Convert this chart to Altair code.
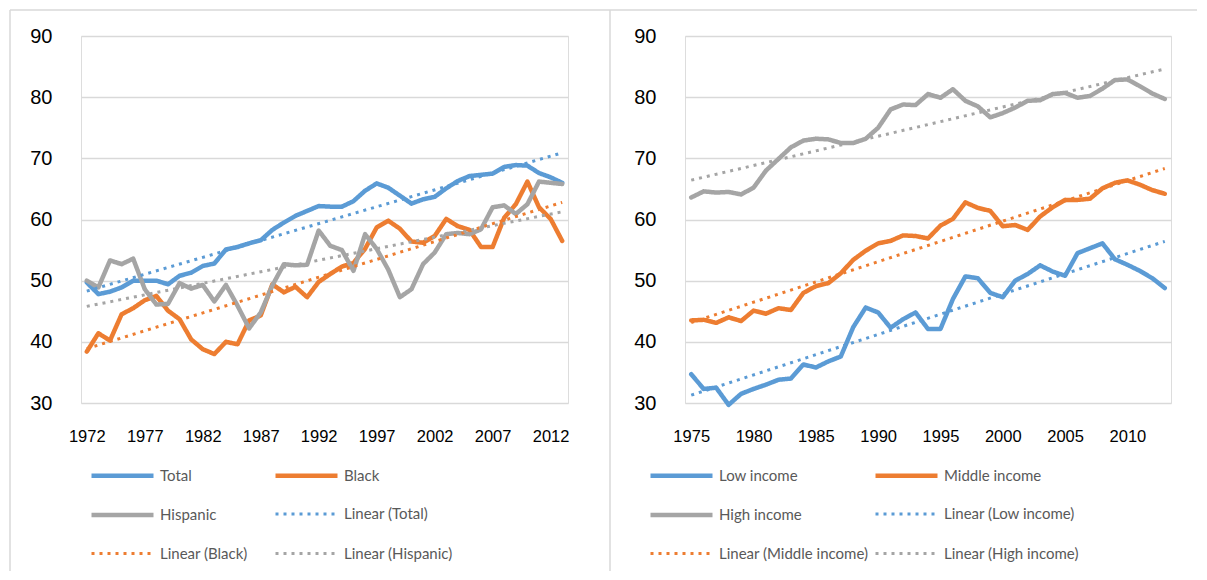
import altair as alt
import pandas as pd

# ---------------- Left panel data (1972-2013) ----------------
years_left = list(range(1972, 2014))
total = [49.7, 47.8, 48.2, 48.9, 50.0, 50.0, 50.0, 49.4, 50.8, 51.3,
         52.4, 52.8, 55.1, 55.5, 56.1, 56.6, 58.3, 59.5, 60.6, 61.4,
         62.2, 62.1, 62.1, 63.0, 64.7, 65.9, 65.2, 63.9, 62.6, 63.3,
         63.7, 65.1, 66.3, 67.1, 67.3, 67.5, 68.6, 68.9, 68.8, 67.6,
         66.9, 66.0]
black = [38.4, 41.4, 40.2, 44.5, 45.5, 46.8, 47.5, 45.1, 43.7, 40.4,
         38.8, 38.0, 40.0, 39.6, 43.5, 44.3, 49.4, 48.1, 49.0, 47.3,
         49.8, 51.1, 52.3, 52.9, 55.2, 58.7, 59.8, 58.5, 56.4, 56.2,
         57.3, 60.1, 58.9, 58.3, 55.5, 55.5, 60.3, 62.5, 66.2, 62.0,
         60.1, 56.5]
hispanic = [50.0, 48.9, 53.3, 52.7, 53.6, 48.6, 46.1, 46.2, 49.6, 48.7,
            49.3, 46.6, 49.3, 45.9, 42.2, 44.8, 49.2, 52.7, 52.5, 52.6,
            58.2, 55.7, 55.0, 51.6, 57.6, 55.2, 51.8, 47.3, 48.6, 52.7,
            54.6, 57.6, 57.8, 57.6, 58.4, 62.0, 62.3, 60.9, 62.5, 66.2,
            66.0, 65.8]
names_left = ["Total", "Black", "Hispanic"]

# ---------------- Right panel data (1975-2013) ----------------
years_right = list(range(1975, 2014))
low_income = [34.7, 32.3, 32.5, 29.7, 31.5, 32.3, 33.0, 33.8, 34.0, 36.3,
              35.8, 36.8, 37.6, 42.4, 45.6, 44.8, 42.3, 43.7, 44.8, 42.1,
              42.1, 47.0, 50.7, 50.4, 48.0, 47.3, 50.0, 51.1, 52.5, 51.5,
              50.8, 54.5, 55.3, 56.1, 53.5, 52.6, 51.6, 50.4, 48.8]
middle_income = [43.5, 43.6, 43.1, 44.0, 43.4, 45.1, 44.6, 45.5, 45.2, 48.0,
                 49.1, 49.6, 51.2, 53.4, 54.9, 56.1, 56.5, 57.4, 57.3, 56.9,
                 59.0, 60.1, 62.8, 61.9, 61.4, 58.9, 59.1, 58.3, 60.5, 62.0,
                 63.2, 63.2, 63.4, 65.1, 66.0, 66.4, 65.7, 64.8, 64.2]
high_income = [63.6, 64.6, 64.4, 64.5, 64.1, 65.2, 68.0, 69.9, 71.8, 72.9,
               73.2, 73.1, 72.5, 72.5, 73.2, 75.0, 78.0, 78.8, 78.7, 80.5,
               79.9, 81.3, 79.4, 78.5, 76.7, 77.4, 78.3, 79.4, 79.5, 80.5,
               80.7, 79.9, 80.2, 81.4, 82.8, 82.9, 81.8, 80.6, 79.7]
names_right = ["Low income", "Middle income", "High income"]

y_ticks = [30, 40, 50, 60, 70, 80, 90]
x_ticks_left = [1972, 1977, 1982, 1987, 1992, 1997, 2002, 2007, 2012]
x_ticks_right = [1975, 1980, 1985, 1990, 1995, 2000, 2005, 2010]

colors = ["#5B9BD5", "#ED7D31", "#A5A5A5"]
TEXT = "#595959"
GRID = "#D9D9D9"
FONT = "Lato"


def long_df(years, series_names, series_values):
    rows = []
    for name, vals in zip(series_names, series_values):
        for yr, v in zip(years, vals):
            rows.append({"year": yr, "value": v, "series": name})
    return pd.DataFrame(rows)


def panel(df, names, x_domain, x_ticks, width, legend_x, col_pad, frame_layers):
    all_names = names + [f"Linear ({n})" for n in names]
    color_scale = alt.Scale(domain=all_names, range=colors + colors)
    dash_scale = alt.Scale(domain=all_names,
                           range=[[1, 0]] * 3 + [[3, 5]] * 3)
    width_scale = alt.Scale(type="ordinal", domain=all_names,
                            range=[4.5] * 3 + [3] * 3)
    legend = alt.Legend(
        title=None, orient="none", legendX=legend_x, legendY=427,
        direction="horizontal",
        columns=2, gridAlign="all", columnPadding=col_pad, rowPadding=17.5,
        symbolType="M-3.1,0H3.1", symbolSize=400, labelOffset=25,
        labelFont=FONT, labelFontSize=15, labelColor=TEXT,
        padding=0, offset=0,
    )
    x_enc = alt.X("year:Q", scale=alt.Scale(domain=x_domain, nice=False, zero=False),
                  axis=alt.Axis(values=x_ticks, format="d", title=None, grid=False,
                                domain=False, ticks=False, labelPadding=25,
                                labelFontSize=16.5, labelFlush=False))
    y_enc = alt.Y("value:Q", scale=alt.Scale(domain=[30, 90], nice=False, zero=False),
                  axis=alt.Axis(values=y_ticks, title=None, grid=True, gridColor=GRID,
                                gridWidth=1.5, domain=False, ticks=False,
                                labelPadding=29, labelFontSize=20))
    base = alt.Chart(df)
    lines = base.mark_line(strokeCap="round", strokeJoin="round").transform_calculate(
        name="datum.series"
    ).encode(
        x=x_enc, y=y_enc,
        color=alt.Color("name:N", scale=color_scale, legend=legend),
        strokeDash=alt.StrokeDash("name:N", scale=dash_scale, legend=legend),
        strokeWidth=alt.StrokeWidth("name:N", scale=width_scale, legend=legend),
    )
    trends = base.mark_line(strokeCap="butt").transform_regression(
        "year", "value", groupby=["series"]
    ).transform_calculate(
        name='"Linear (" + datum.series + ")"'
    ).encode(
        x=x_enc, y=y_enc,
        color=alt.Color("name:N", scale=color_scale, legend=legend),
        strokeDash=alt.StrokeDash("name:N", scale=dash_scale, legend=legend),
        strokeWidth=alt.StrokeWidth("name:N", scale=width_scale, legend=legend),
    )
    return alt.layer(*frame_layers, lines, trends).properties(width=width, height=367)


dummy = pd.DataFrame({"k": [0]})


def frame_rule(x, x2, y, y2):
    return alt.Chart(dummy).mark_rule(color=GRID, strokeWidth=1.5).encode(
        x=alt.value(x), x2=alt.value(x2), y=alt.value(y), y2=alt.value(y2)
    )


left_frame = [frame_rule(-71, 529, -26, -26), frame_rule(-71, -71, -26, 535)]
right_frame = [frame_rule(-75, 512, -26, -26), frame_rule(-75, -75, -26, 535)]

df_left = long_df(years_left, names_left, [total, black, hispanic])
df_right = long_df(years_right, names_right, [low_income, middle_income, high_income])

left = panel(df_left, names_left, [1971.5, 2013.5], x_ticks_left, 487, 29, -3, left_frame)
right = panel(df_right, names_right, [1974.5, 2013.5], x_ticks_right, 486, -16, -3, right_frame)

chart = alt.hconcat(left, right, spacing=117, bounds="flush",
                    padding={"left": 0, "top": 0, "right": 0, "bottom": 0}).resolve_scale(
    color="independent", strokeDash="independent", strokeWidth="independent"
).configure_view(stroke=None).configure_axis(
    labelFont=FONT, labelColor=TEXT
).configure(background="white")

chart.save("out.html", embed_options={"renderer": "svg", "actions": False})
